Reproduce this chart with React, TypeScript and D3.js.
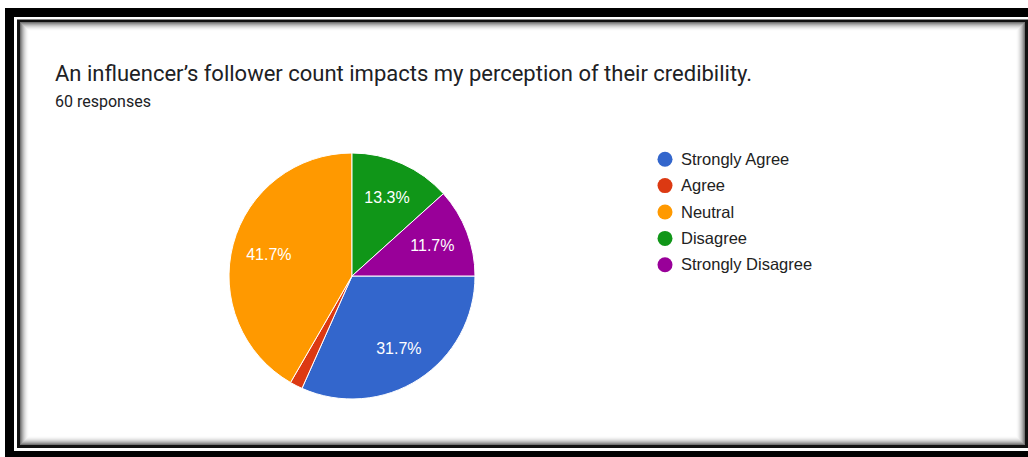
import React from "react";
import * as d3 from "d3";

const categories = ["Strongly Agree", "Agree", "Neutral", "Disagree", "Strongly Disagree"];
const counts = [19, 1, 25, 8, 7];
const colors = ["#3366cc", "#dc3912", "#ff9900", "#109618", "#990099"];
const title = "An influencer\u2019s follower count impacts my perception of their credibility.";
const subtitle = "60 responses";

const W = 1028;
const H = 457;

export default function App() {
  const cx = 352;
  const cy = 276;
  const r = 123;
  const total = d3.sum(counts);
  const pie = d3
    .pie<number>()
    .sort(null)
    .startAngle(Math.PI / 2)
    .endAngle(Math.PI / 2 + 2 * Math.PI)(counts);
  const arc = d3.arc<d3.PieArcDatum<number>>().innerRadius(0).outerRadius(r);
  const labelArc = d3.arc<d3.PieArcDatum<number>>().innerRadius(r * 0.7).outerRadius(r * 0.7);
  const legendY = d3.scaleBand<string>().domain(categories).range([146, 278]);

  const shadow = d3.range(9).map((i) => ({ i, o: 0.55 * Math.pow(1 - i / 9, 2) }));

  return (
    <svg width={W} height={H} style={{ position: "absolute", left: 0, top: 0, display: "block" }}>
      <rect x={0} y={0} width={W} height={H} fill="#fff" />
      <rect x={5} y={8} width={1040} height={460} fill="#000" />
      <rect x={14} y={17} width={1030} height={434} fill="#fff" />
      <rect x={17} y={19.5} width={1011} height={428.5} fill="#111" />
      <rect x={20} y={22} width={1005} height={423} fill="#fff" />
      {shadow.map((s) => (
        <rect
          key={s.i}
          x={20.5 + s.i}
          y={22.5 + s.i}
          width={1004 - 2 * s.i}
          height={422 - 2 * s.i}
          fill="none"
          stroke="#000"
          strokeOpacity={s.o}
          strokeWidth={1}
        />
      ))}
      <text x={55} y={81} fontFamily="Roboto, Arial, sans-serif" fontSize={22} fill="#202124">
        {title}
      </text>
      <text x={55} y={107} fontFamily="Roboto, Arial, sans-serif" fontSize={16} fill="#202124">
        {subtitle}
      </text>
      <g transform={`translate(${cx},${cy})`}>
        {pie.map((p, i) => (
          <path key={i} d={arc(p) || ""} fill={colors[i]} stroke="#fff" strokeWidth={1} />
        ))}
        {pie.map((p, i) => {
          if (p.value / total < 0.05) return null;
          const [x, y] = labelArc.centroid(p);
          return (
            <text
              key={i}
              x={x}
              y={y + 6}
              textAnchor="middle"
              fontFamily="Arial, 'Liberation Sans', sans-serif"
              fontSize={16}
              fill="#fff"
            >
              {`${((p.value / total) * 100).toFixed(1)}%`}
            </text>
          );
        })}
      </g>
      {categories.map((c, i) => {
        const y = (legendY(c) || 0) + legendY.bandwidth() / 2;
        return (
          <g key={c}>
            <circle cx={665} cy={y} r={7.5} fill={colors[i]} />
            <text
              x={681}
              y={y + 5.5}
              fontFamily="Arial, 'Liberation Sans', sans-serif"
              fontSize={16.5}
              fill="#222"
            >
              {c}
            </text>
          </g>
        );
      })}
    </svg>
  );
}
